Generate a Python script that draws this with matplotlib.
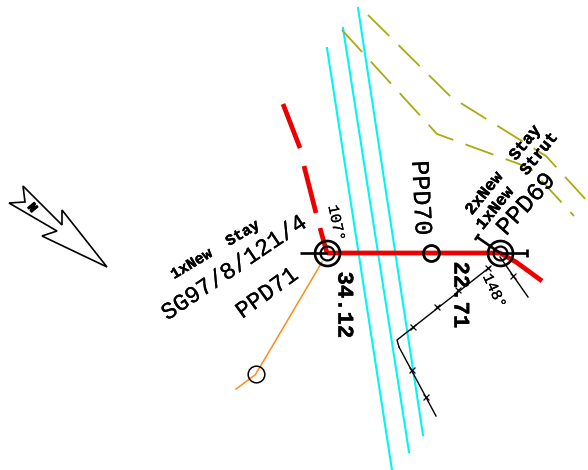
import matplotlib
matplotlib.use('Agg')
import matplotlib.pyplot as plt
import matplotlib.patheffects as pe
from matplotlib.patches import Polygon

cyan_lines = [
    ([327, 392], [48, 470]),
    ([343, 409], [28, 452]),
    ([358, 423], [8, 435]),
]
olive_outer_x = [368, 451, 546, 588]
olive_outer_y = [15, 97, 156, 202]
olive_inner_x = [342, 437, 530, 574]
olive_inner_y = [30, 134, 168, 216]

red_dash_x = [283, 300, 304, 316, 320, 327]
red_dash_y = [104, 148, 166, 213, 228, 253]
red_solid_x = [327, 500, 516, 542]
red_solid_y = [253, 253, 262, 281]

orange_x = [322, 260, 255, 236]
orange_y = [262, 367, 375, 389]

stay_stubs = [
    ([300, 327], [253, 253]),
    ([500, 527], [253, 253]),
    ([477, 500], [237, 253]),
]
stub_ticks = [
    ([527, 527], [249, 257]),
    ([475, 479], [240, 234]),
]

double_poles_x = [327, 500]
double_poles_y = [253, 253]

lv_a_x = [490, 397, 399]
lv_a_y = [267, 340, 347]
lv_b_x = [399, 436]
lv_b_y = [347, 416]
lv_c_x = [500, 528]
lv_c_y = [257, 297]
cross_x = [488, 458, 437, 413, 412, 426, 513]
cross_y = [268, 290, 307, 327, 370, 397, 276]

north_arrow = [(23, 186), (62, 225), (62, 210), (107, 267), (42, 236),
               (57, 231), (9, 203), (25, 202)]

# text, x, y, rotation, size, weight
labels = [
    ('1xNew  Stay', 215, 250, 31, 11, 'bold'),
    ('SG97/8/121/4', 234, 268, 34, 17, 'normal'),
    ('PPD71', 267, 293, 36, 17, 'normal'),
    ('107°', 336, 223, -78, 11, 'normal'),
    ('34.12', 344, 305, -90, 16, 'bold'),
    ('PPD70', 421, 198, -87, 18, 'normal'),
    ('22.71', 460, 295, -90, 16, 'bold'),
    ('2xNew  Stay', 503, 170, 51, 12, 'bold'),
    ('1xNew  Strut', 517, 181, 51, 12, 'bold'),
    ('PPD69', 526, 204, 48, 18, 'normal'),
    ('148°', 494, 291, -65, 11, 'normal'),
]

fig = plt.figure(figsize=(5.88, 4.7), dpi=100)
ax = fig.add_axes([0, 0, 1, 1])
ax.set_xlim(0, 588)
ax.set_ylim(470, 0)
ax.axis('off')

for xs, ys in cyan_lines:
    ax.plot(xs, ys, color='#00f5f5', lw=1.5, zorder=1)

ax.plot(olive_outer_x, olive_outer_y, color='#aaaa11', lw=1.3, dashes=(16.5, 7.2),
        dash_capstyle='butt', zorder=1)
ax.plot(olive_inner_x, olive_inner_y, color='#aaaa11', lw=1.3, dashes=(16.5, 7.2),
        dash_capstyle='butt', zorder=1)

for i in range(0, len(red_dash_x), 2):
    ax.plot(red_dash_x[i:i + 2], red_dash_y[i:i + 2], color='#ee0000', lw=3.4,
            solid_capstyle='butt', zorder=3)
ax.plot(red_solid_x, red_solid_y, color='#ee0000', lw=3.4, solid_capstyle='butt', zorder=3)

ax.plot(orange_x, orange_y, color='#ff8c1a', lw=1.1, zorder=2)

for xs, ys in stay_stubs:
    ax.plot(xs, ys, color='black', lw=1.9, solid_capstyle='butt', zorder=4)
for xs, ys in stub_ticks:
    ax.plot(xs, ys, color='black', lw=1.9, solid_capstyle='butt', zorder=4)

ax.plot(lv_a_x, lv_a_y, color='black', lw=1, zorder=2)
ax.plot(lv_b_x, lv_b_y, color='black', lw=1, zorder=2)
ax.plot(lv_c_x, lv_c_y, color='black', lw=1, zorder=2)
ax.scatter(cross_x, cross_y, marker='x', s=18, color='black', linewidths=0.9, zorder=2)

ax.plot(double_poles_x, double_poles_y, 'o', ms=18, mfc='none', mec='black', mew=1.9,
        ls='none', zorder=5)
ax.plot(double_poles_x, double_poles_y, 'o', ms=10, mfc='none', mec='black', mew=1.6,
        ls='none', zorder=5)
ax.plot([431], [253], 'o', ms=11.5, mfc='none', mec='black', mew=2, zorder=5)
ax.plot([256], [374], 'o', ms=12, mfc='none', mec='black', mew=1.1, zorder=5)

ax.add_patch(Polygon(north_arrow, closed=True, fc='white', ec='black', lw=1.2, zorder=2))
ax.text(32, 208, 'N', rotation=-50, fontsize=9, fontweight='bold', family='Liberation Mono',
        ha='center', va='center', zorder=3,
        path_effects=[pe.withStroke(linewidth=1, foreground='black')])

for txt, x, y, rot, size, weight in labels:
    stroke = 0.3 if weight == 'bold' else 0.15
    ax.text(x, y, txt, rotation=rot, rotation_mode='anchor', fontsize=size, fontweight=weight,
            family='Liberation Mono', ha='center', va='center', color='black', zorder=6,
            path_effects=[pe.withStroke(linewidth=stroke, foreground='black')])

fig.savefig('out.png', dpi=100, facecolor='white')
